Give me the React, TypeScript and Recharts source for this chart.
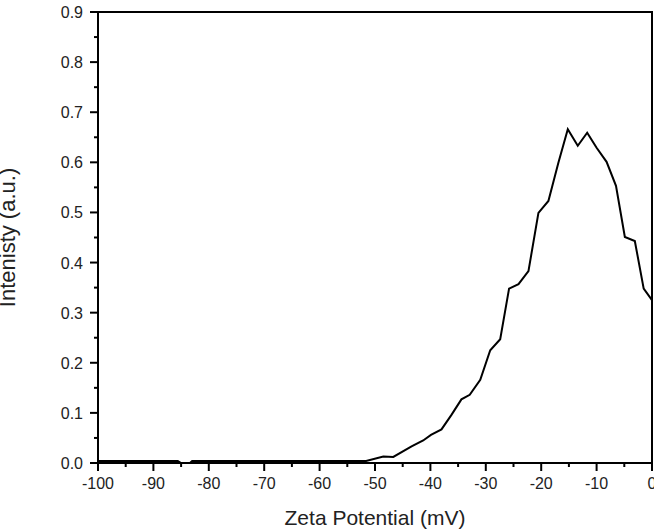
import { LineChart, Line, XAxis, YAxis, ReferenceArea } from "recharts";

const zeta = [
  -100, -85.6, -85.0, -83.4, -83.0, -51.6, -48.5, -46.7, -43.4, -41.3, -39.9,
  -38.0, -36.2, -34.4, -32.9, -31.0, -29.2, -27.4, -25.8, -24.1, -22.3, -20.5,
  -18.7, -16.9, -15.2, -13.4, -11.7, -10.0, -8.2, -6.5, -4.9, -3.1, -1.5, 0,
];
const intensity = [
  0.004, 0.004, 0.0, 0.0, 0.004, 0.004, 0.013, 0.012, 0.033, 0.045, 0.056,
  0.067, 0.096, 0.127, 0.136, 0.166, 0.225, 0.247, 0.348, 0.357, 0.383, 0.499,
  0.523, 0.599, 0.666, 0.633, 0.659, 0.629, 0.601, 0.553, 0.451, 0.443, 0.348,
  0.325,
];

const xTicks = [
  -100, -95, -90, -85, -80, -75, -70, -65, -60, -55, -50, -45, -40, -35, -30,
  -25, -20, -15, -10, -5, 0,
];
const yTicks = [
  0, 0.05, 0.1, 0.15, 0.2, 0.25, 0.3, 0.35, 0.4, 0.45, 0.5, 0.55, 0.6, 0.65,
  0.7, 0.75, 0.8, 0.85, 0.9,
];

const data = zeta.map((x, i) => ({ x, y: intensity[i] }));

const FONT = "'Liberation Sans', Arial, sans-serif";
const INK = "#222";

const isMajorY = (v: number) => Math.round(v * 100) % 10 === 0;

const BottomTick = (props: any) => {
  const { x, y, payload } = props;
  const major = payload.value % 10 === 0;
  return (
    <g>
      <line x1={x} x2={x} y1={y} y2={y + (major ? 8 : 4)} stroke="#000" strokeWidth={2} />
      {major && (
        <text x={x} y={y + 26} textAnchor="middle" fontSize={16} fontFamily={FONT} fill={INK}>
          {String(payload.value)}
        </text>
      )}
    </g>
  );
};

const LeftTick = (props: any) => {
  const { x, y, payload } = props;
  const major = isMajorY(payload.value);
  return (
    <g>
      <line x1={x} x2={x - (major ? 8 : 4)} y1={y} y2={y} stroke="#000" strokeWidth={2} />
      {major && (
        <text x={x - 15} y={y + 6} textAnchor="end" fontSize={16} fontFamily={FONT} fill={INK}>
          {payload.value.toFixed(1)}
        </text>
      )}
    </g>
  );
};

export default function App() {
  return (
    <div style={{ position: "absolute", left: 0, top: 0 }}>
      <LineChart
        width={654}
        height={531}
        data={data}
        margin={{ top: 12, right: 2, bottom: 0, left: 0 }}
      >
        <XAxis
          type="number"
          dataKey="x"
          domain={[-100, 0]}
          ticks={xTicks}
          interval={0}
          tickSize={0}
          tickMargin={0}
          tickLine={false}
          tick={BottomTick}
          axisLine={{ stroke: "#000", strokeWidth: 2 }}
          height={68}
          label={{
            value: "Zeta Potential (mV)",
            position: "insideBottom",
            offset: 6,
            style: { fontSize: 21, fontFamily: FONT, fill: INK },
          }}
        />
        <YAxis
          type="number"
          domain={[0, 0.9]}
          ticks={yTicks}
          interval={0}
          tickSize={0}
          tickMargin={0}
          tickLine={false}
          tick={LeftTick}
          axisLine={{ stroke: "#000", strokeWidth: 2 }}
          width={98}
          label={{
            value: "Intenisty (a.u.)",
            angle: -90,
            position: "insideLeft",
            offset: 23,
            dx: -16,
            style: { fontSize: 22, fontFamily: FONT, fill: INK, textAnchor: "middle" },
          }}
        />
        {/* plot frame (top and right edges) */}
        <ReferenceArea
          x1={-100}
          x2={0}
          y1={0}
          y2={0.9}
          fill="none"
          fillOpacity={0}
          stroke="#000"
          strokeWidth={2}
          strokeOpacity={1}
          ifOverflow="visible"
        />
        <Line
          type="linear"
          dataKey="y"
          stroke="#000"
          strokeWidth={2}
          dot={false}
          isAnimationActive={false}
        />
      </LineChart>
    </div>
  );
}
